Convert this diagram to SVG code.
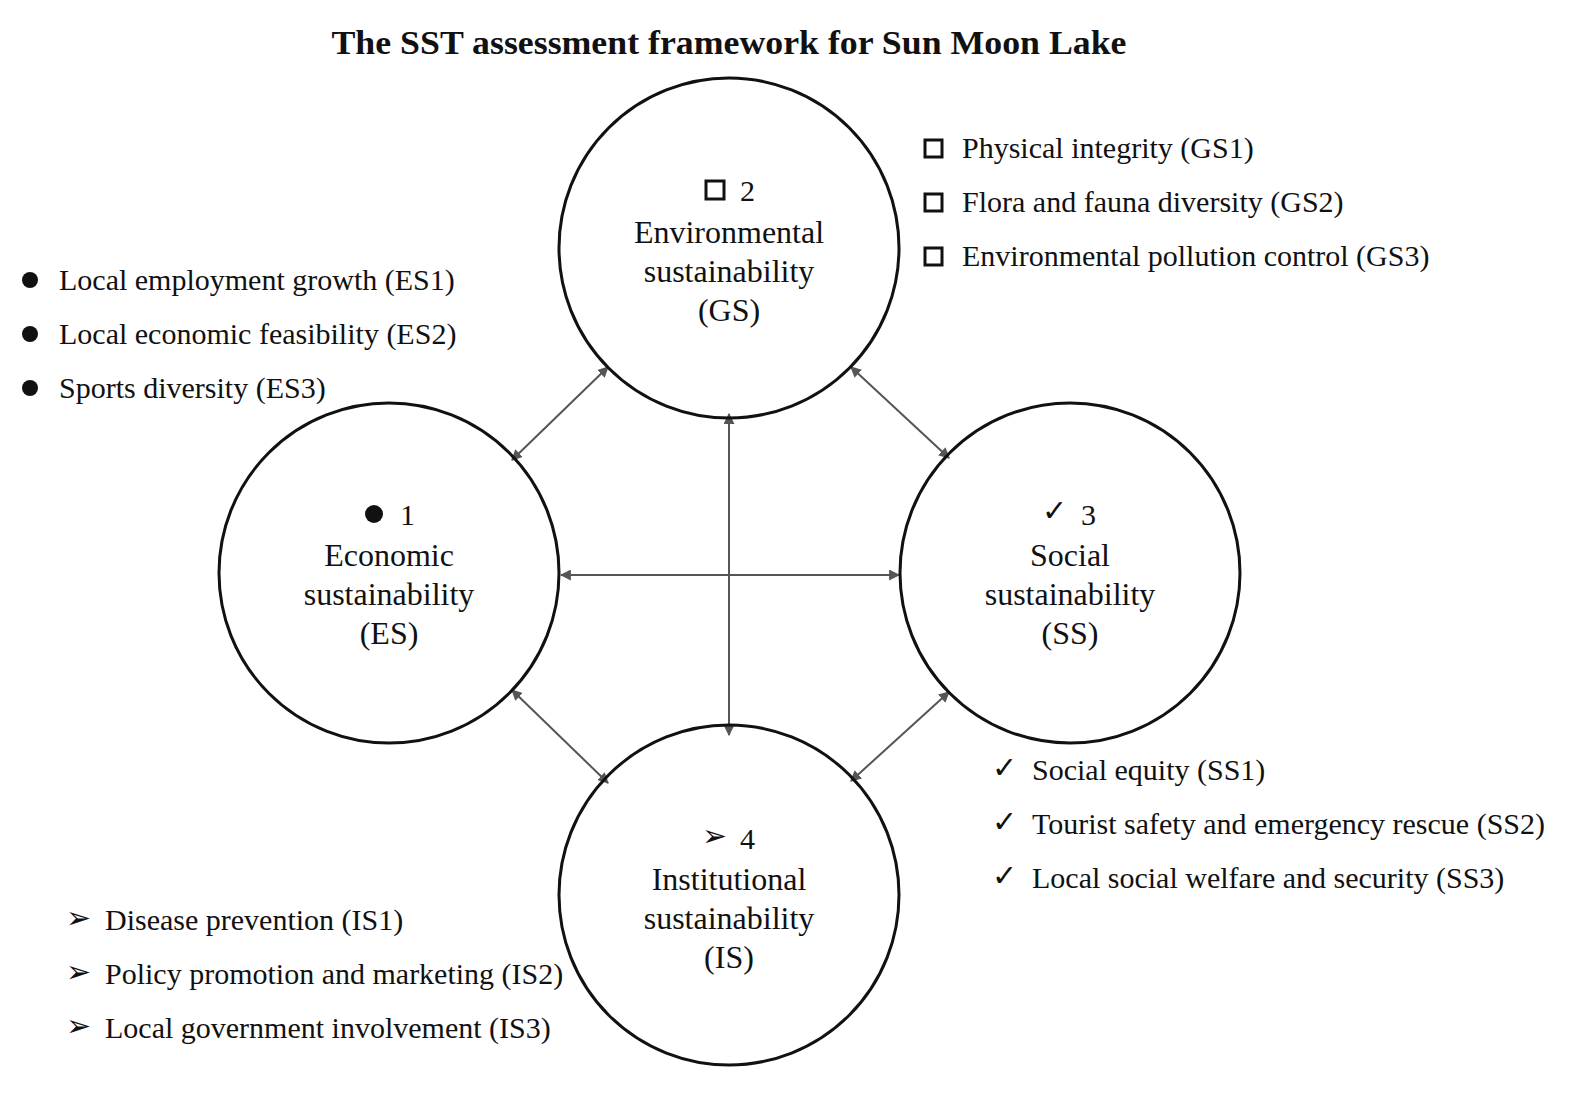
<svg xmlns="http://www.w3.org/2000/svg" width="1591" height="1098" viewBox="0 0 1591 1098">
<style>
text{font-family:"Liberation Serif","Times New Roman",serif;font-size:30px;fill:#111}
.c{text-anchor:middle;font-size:32px}
.n{fill:none;stroke:#111;stroke-width:3}
.a{stroke:#555;stroke-width:2;fill:none;marker-start:url(#h);marker-end:url(#h)}
.sq{fill:none;stroke:#111;stroke-width:3}
</style>
<defs><marker id="h" viewBox="0 0 10 10" refX="9" refY="5" markerWidth="11" markerHeight="11" markerUnits="userSpaceOnUse" orient="auto-start-reverse"><path d="M0,0L10,5L0,10z" fill="#555"/></marker></defs>
<rect width="1591" height="1098" fill="#fff"/>
<text x="729" y="54" text-anchor="middle" style="font-weight:bold;font-size:34px" textLength="795" lengthAdjust="spacingAndGlyphs">The SST assessment framework for Sun Moon Lake</text>
<g id="connectors">
<line class="a" x1="608" y1="367" x2="512" y2="460"/>
<line class="a" x1="851" y1="367" x2="949" y2="458"/>
<line class="a" x1="512" y1="690" x2="608" y2="783"/>
<line class="a" x1="949" y1="692" x2="851" y2="781"/>
<line class="a" x1="561" y1="575" x2="899" y2="575"/>
<line class="a" x1="729" y1="414" x2="729" y2="735"/>
</g>
<g id="GS"><circle class="n" cx="729" cy="248" r="170"/>
<rect class="sq" x="706" y="181" width="18" height="18"/><text x="740" y="201">2</text>
<text x="729" y="243" class="c">Environmental</text><text x="729" y="282" class="c">sustainability</text><text x="729" y="321" class="c">(GS)</text></g>
<g id="ES"><circle class="n" cx="389" cy="573" r="170"/>
<circle cx="374" cy="514" r="9" fill="#111"/><text x="400" y="525">1</text>
<text x="389" y="566" class="c">Economic</text><text x="389" y="605" class="c">sustainability</text><text x="389" y="644" class="c">(ES)</text></g>
<g id="SS"><circle class="n" cx="1070" cy="573" r="170"/>
<text x="1042" y="521">✓</text><text x="1081" y="525">3</text>
<text x="1070" y="566" class="c">Social</text><text x="1070" y="605" class="c">sustainability</text><text x="1070" y="644" class="c">(SS)</text></g>
<g id="IS"><circle class="n" cx="729" cy="895" r="170"/>
<text x="702" y="846">➢</text><text x="740" y="849">4</text>
<text x="729" y="890" class="c">Institutional</text><text x="729" y="929" class="c">sustainability</text><text x="729" y="968" class="c">(IS)</text></g>
<g id="GS-list">
<rect class="sq" x="925" y="140" width="17" height="17"/><text x="962" y="158">Physical integrity (GS1)</text>
<rect class="sq" x="925" y="194" width="17" height="17"/><text x="962" y="212">Flora and fauna diversity (GS2)</text>
<rect class="sq" x="925" y="248" width="17" height="17"/><text x="962" y="266">Environmental pollution control (GS3)</text>
</g>
<g id="ES-list">
<circle cx="30" cy="280" r="8" fill="#111"/><text x="59" y="290">Local employment growth (ES1)</text>
<circle cx="30" cy="334" r="8" fill="#111"/><text x="59" y="344">Local economic feasibility (ES2)</text>
<circle cx="30" cy="388" r="8" fill="#111"/><text x="59" y="398">Sports diversity (ES3)</text>
</g>
<g id="SS-list">
<text x="992" y="778">✓</text><text x="1032" y="780">Social equity (SS1)</text>
<text x="992" y="832">✓</text><text x="1032" y="834">Tourist safety and emergency rescue (SS2)</text>
<text x="992" y="886">✓</text><text x="1032" y="888">Local social welfare and security (SS3)</text>
</g>
<g id="IS-list">
<text x="66" y="928">➢</text><text x="105" y="930">Disease prevention (IS1)</text>
<text x="66" y="982">➢</text><text x="105" y="984">Policy promotion and marketing (IS2)</text>
<text x="66" y="1036">➢</text><text x="105" y="1038">Local government involvement (IS3)</text>
</g>
</svg>
